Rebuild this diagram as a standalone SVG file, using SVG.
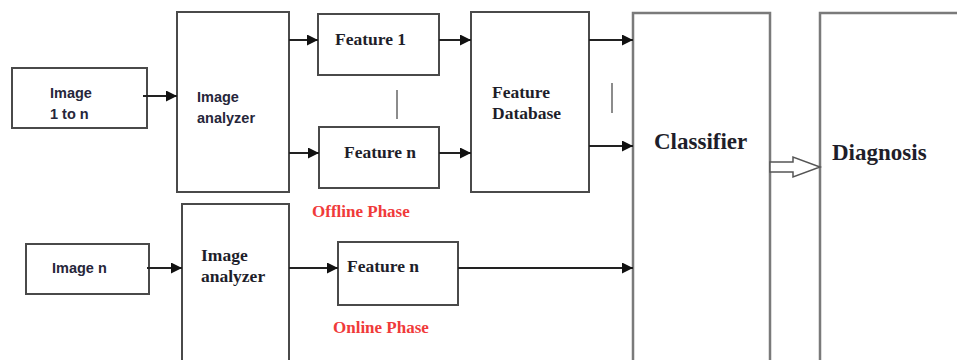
<svg xmlns="http://www.w3.org/2000/svg" width="957" height="360" viewBox="0 0 957 360">
<defs>
<marker id="ah" viewBox="0 0 10 10" refX="10" refY="5" markerWidth="6" markerHeight="5.5" markerUnits="strokeWidth" orient="auto">
<path d="M0,0 L10,5 L0,10 z" fill="#111"/>
</marker>
<style>
.box{fill:#fff;stroke:#4a4a4a;stroke-width:2}
.big{fill:#fff;stroke:#7a7a7a;stroke-width:2.5}
.sans{font-family:"Liberation Sans",Arial,sans-serif;font-weight:bold;font-size:14.5px;fill:#26263a}
.serif{font-family:"Liberation Serif","Times New Roman",serif;font-weight:bold;font-size:17.5px;fill:#1e1e2a}
.title{font-family:"Liberation Serif","Times New Roman",serif;font-weight:bold;font-size:23px;fill:#1e1e2a}
.red{font-family:"Liberation Serif","Times New Roman",serif;font-weight:bold;font-size:17px;fill:#f03a3a}
.c{fill:none;stroke:#222;stroke-width:2;marker-end:url(#ah)}
.t{stroke:#666;stroke-width:1.5}
</style>
</defs>
<rect width="957" height="360" fill="#fff"/>
<g id="img1">
<rect class="box" x="12" y="68" width="135" height="60"/>
<text class="sans" x="50" y="98">Image</text>
<text class="sans" x="50" y="119">1 to n</text>
</g>
<g id="analyzer1">
<rect class="box" x="177" y="12" width="112" height="180"/>
<text class="sans" x="197" y="102">Image</text>
<text class="sans" x="197" y="123">analyzer</text>
</g>
<g id="feat1">
<rect class="box" x="318" y="14" width="121" height="61"/>
<text class="serif" x="335" y="45">Feature 1</text>
</g>
<g id="featn1">
<rect class="box" x="319" y="127" width="120" height="61"/>
<text class="serif" x="344" y="158">Feature n</text>
</g>
<g id="db">
<rect class="box" x="471" y="12" width="118" height="180"/>
<text class="serif" x="492" y="98">Feature</text>
<text class="serif" x="492" y="119">Database</text>
</g>
<g id="classifier">
<rect class="big" x="633" y="13" width="137" height="360"/>
<text class="title" x="654" y="149">Classifier</text>
</g>
<g id="diagnosis">
<rect class="big" x="820" y="13" width="160" height="360"/>
<text class="title" x="832" y="160">Diagnosis</text>
</g>
<g id="imgn">
<rect class="box" x="26" y="244" width="123" height="50"/>
<text class="sans" x="52" y="273">Image n</text>
</g>
<g id="analyzer2">
<rect class="box" x="182" y="204" width="107" height="170"/>
<text class="serif" x="201" y="261">Image</text>
<text class="serif" x="201" y="282">analyzer</text>
</g>
<g id="featn2">
<rect class="box" x="338" y="242" width="120" height="63"/>
<text class="serif" x="347" y="272">Feature n</text>
</g>
<g id="labels">
<text class="red" x="312" y="217">Offline Phase</text>
<text class="red" x="333" y="333">Online Phase</text>
</g>
<g id="connectors">
<line class="c" x1="143" y1="96" x2="177" y2="96"/>
<line class="c" x1="289" y1="40" x2="318" y2="40"/>
<line class="c" x1="289" y1="153" x2="319" y2="153"/>
<line class="c" x1="439" y1="40" x2="471" y2="40"/>
<line class="c" x1="439" y1="153" x2="471" y2="153"/>
<line class="c" x1="589" y1="40" x2="633" y2="40"/>
<line class="c" x1="589" y1="146" x2="633" y2="146"/>
<line class="c" x1="147" y1="268" x2="182" y2="268"/>
<line class="c" x1="289" y1="268" x2="338" y2="268"/>
<line class="c" x1="458" y1="268" x2="633" y2="268"/>
<line class="t" x1="397" y1="90" x2="397" y2="119"/>
<line class="t" x1="612" y1="83" x2="612" y2="113"/>
<path d="M770,162 L793,162 L793,157 L820,167 L793,177 L793,172 L770,172 Z" fill="#fff" stroke="#555" stroke-width="1.5"/>
</g>
</svg>
